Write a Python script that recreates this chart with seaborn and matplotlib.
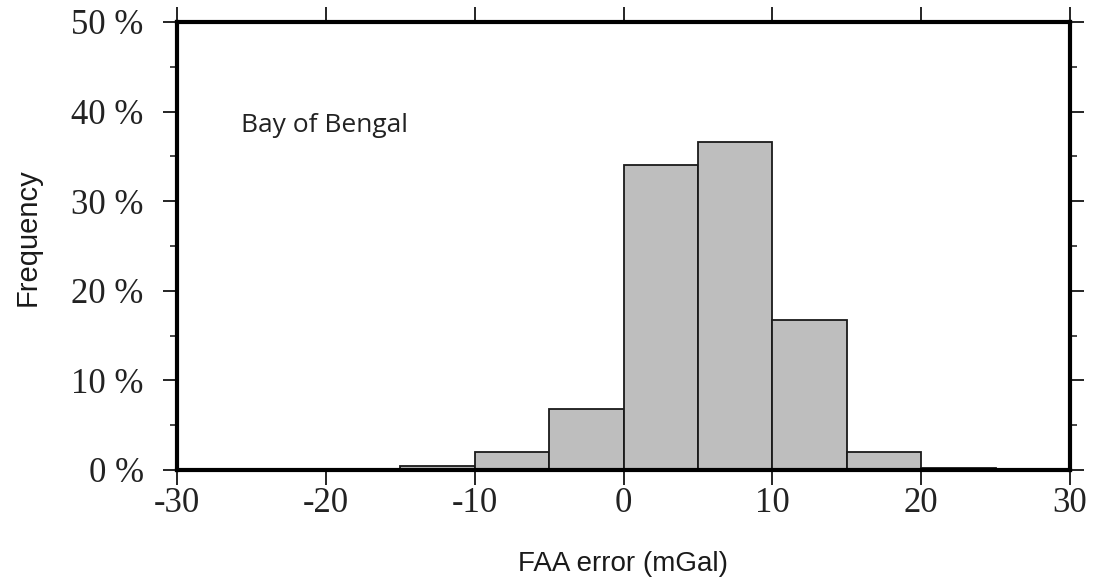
import numpy as np
import pandas as pd
import matplotlib
matplotlib.use("Agg")
import matplotlib.pyplot as plt
import seaborn as sns
from matplotlib.ticker import MultipleLocator, FuncFormatter

# Data: histogram bin edges and frequency (%) per bin
bin_edges = [-30, -25, -20, -15, -10, -5, 0, 5, 10, 15, 20, 25, 30]
freq_pct = [0.0, 0.0, 0.0, 0.5, 2.0, 6.8, 34.0, 36.6, 16.7, 2.0, 0.2, 0.0]
x_ticks = [-30, -20, -10, 0, 10, 20, 30]
y_ticks = [0, 10, 20, 30, 40, 50]
region_label = "Bay of Bengal"

centers = [(a + b) / 2 for a, b in zip(bin_edges[:-1], bin_edges[1:])]
df = pd.DataFrame({"err": centers, "w": freq_pct})

sns.set_style("ticks")
plt.rcParams["font.family"] = ["Liberation Sans", "DejaVu Sans"]

fig = plt.figure(figsize=(10.96, 5.79), dpi=100)
ax = fig.add_axes([177 / 1096, 1 - 470 / 579, (1070 - 177) / 1096, (470 - 22) / 579])

sns.histplot(data=df, x="err", weights="w", bins=bin_edges, stat="count",
             color="#bebebe", alpha=1.0, edgecolor="#1a1a1a", linewidth=1.3, ax=ax)

ax.set_xlim(-30, 30)
ax.set_ylim(0, 50)
ax.set_xticks(x_ticks)
ax.set_yticks(y_ticks)
ax.yaxis.set_minor_locator(MultipleLocator(5))
ax.yaxis.set_major_formatter(FuncFormatter(lambda v, p: f"{int(v)} %"))
ax.xaxis.set_major_formatter(FuncFormatter(lambda v, p: f"{int(v)}"))

for s in ax.spines.values():
    s.set_visible(True)
    s.set_linewidth(3.0)
    s.set_color("black")

ax.tick_params(axis="x", which="major", direction="out", length=11, width=1.2,
               top=True, bottom=True, labeltop=False, pad=1, colors="black")
ax.tick_params(axis="y", which="major", direction="out", length=10, width=1.2,
               left=True, right=True, labelright=False, pad=14, colors="black")
ax.tick_params(axis="y", which="minor", direction="out", length=5, width=1.2,
               left=True, right=True)
for lab in ax.get_xticklabels() + ax.get_yticklabels():
    lab.set_fontfamily(["Liberation Serif", "DejaVu Serif"])
    lab.set_fontsize(25)
    lab.set_color("#222222")

ax.set_xlabel("FAA error (mGal)", fontsize=20, color="#1a1a1a", va="center")
ax.set_ylabel("Frequency", fontsize=21, color="#1a1a1a", va="center")
ax.yaxis.set_label_coords(-(177 - 28) / 893, 0.52)
ax.xaxis.set_label_coords(0.5, -(564 - 470) / 448)

ax.text(-25.7, 38.5, region_label, fontsize=19, family=["Open Sans", "DejaVu Sans"],
        color="#222222", va="center", ha="left")

fig.savefig("out.png", dpi=100)
